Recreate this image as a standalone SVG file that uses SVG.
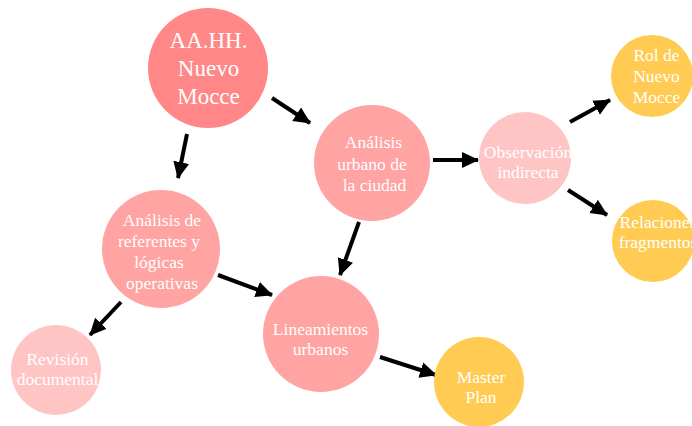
<svg xmlns="http://www.w3.org/2000/svg" width="692" height="426" viewBox="0 0 692 426">
<defs>
<style>
text{font-family:'Liberation Serif','Times New Roman','DejaVu Serif',serif;fill:#ffffff;text-anchor:middle;font-size:17.5px}
.big{font-size:23px}
.c1{fill:#ff8787}
.c2{fill:#ffa3a3}
.c3{fill:#ffc4c4}
.c4{fill:#ffcb52}
.e{stroke:#000;stroke-width:4;fill:none;marker-end:url(#ah)}
</style>
<marker id="ah" markerUnits="userSpaceOnUse" markerWidth="18" markerHeight="18" viewBox="0 0 18 18" refX="16" refY="9" orient="auto">
<path d="M0,1 L17,9 L0,17 Z" fill="#000"/>
</marker>
</defs>
<rect width="692" height="426" fill="#ffffff"/>
<g id="connectors">
<line class="e" x1="272" y1="98" x2="310" y2="123"/>
<line class="e" x1="187" y1="134" x2="178" y2="178"/>
<line class="e" x1="433" y1="160" x2="478" y2="160"/>
<line class="e" x1="570" y1="122" x2="610" y2="100"/>
<line class="e" x1="568" y1="190" x2="607" y2="215"/>
<line class="e" x1="359" y1="222" x2="340" y2="275"/>
<line class="e" x1="218" y1="275" x2="272" y2="295"/>
<line class="e" x1="121" y1="302" x2="90" y2="335"/>
<line class="e" x1="380" y1="357" x2="436" y2="375"/>
</g>
<g id="n_aahh">
<circle class="c1" cx="208" cy="68" r="60"/>
<text class="big" x="208.5" y="48">AA.HH.</text>
<text class="big" x="208.5" y="76">Nuevo</text>
<text class="big" x="208.5" y="104">Mocce</text>
</g>
<g id="n_urbano">
<circle class="c2" cx="372" cy="163" r="58"/>
<text x="373.5" y="148">Análisis</text>
<text x="372" y="169.5">urbano de</text>
<text x="374.5" y="191">la ciudad</text>
</g>
<g id="n_obs">
<circle class="c3" cx="525" cy="158" r="46"/>
<text x="528" y="158">Observación</text>
<text x="528" y="178">indirecta</text>
</g>
<g id="n_rol">
<circle class="c4" cx="652" cy="76" r="41"/>
<text x="656.5" y="61">Rol de</text>
<text x="656.5" y="82">Nuevo</text>
<text x="656.5" y="103">Mocce</text>
</g>
<g id="n_rel">
<circle class="c4" cx="653" cy="241" r="41"/>
<text x="658" y="228">Relaciones</text>
<text x="658" y="248">fragmentos</text>
</g>
<g id="n_ref">
<circle class="c2" cx="161" cy="249" r="59"/>
<text x="162" y="226">Análisis de</text>
<text x="159" y="247">referentes y</text>
<text x="159" y="268">lógicas</text>
<text x="162" y="289">operativas</text>
</g>
<g id="n_lin">
<circle class="c2" cx="321" cy="334" r="58"/>
<text x="320.5" y="335">Lineamientos</text>
<text x="320.5" y="355">urbanos</text>
</g>
<g id="n_rev">
<circle class="c3" cx="56" cy="370" r="45"/>
<text x="57.5" y="365">Revisión</text>
<text x="57.5" y="385">documental</text>
</g>
<g id="n_master">
<circle class="c4" cx="479" cy="382" r="45"/>
<text x="481" y="383">Master</text>
<text x="481" y="403">Plan</text>
</g>
</svg>
